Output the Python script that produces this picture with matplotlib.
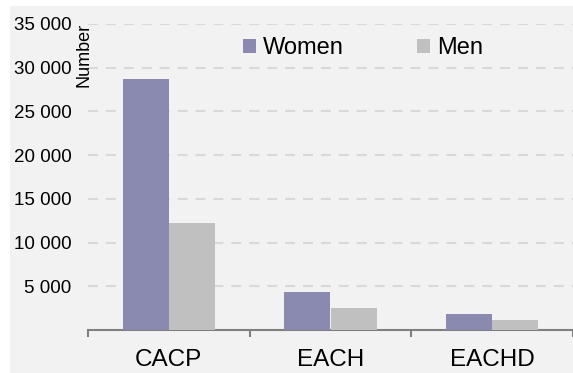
import numpy as np
import matplotlib.pyplot as plt
from matplotlib.patches import Rectangle
from matplotlib.ticker import FixedLocator, FuncFormatter

plt.rcParams['font.family'] = ['Liberation Sans', 'DejaVu Sans']

categories = ['CACP', 'EACH', 'EACHD']
women = [28700, 4300, 1800]
men = [12200, 2500, 1100]
y_ticks = [5000, 10000, 15000, 20000, 25000, 30000, 35000]

women_color = '#8a8ab0'
men_color = '#c0c0c0'
bg_color = '#f2f2f2'

fig = plt.figure(figsize=(5.73, 3.73), dpi=100)
fig.patch.set_facecolor('white')
# grey panel behind everything, leaving a thin white margin top/left
fig.add_artist(Rectangle((10 / 573, 0), 1, 367 / 373, transform=fig.transFigure,
                         facecolor=bg_color, edgecolor='none', zorder=-10))

ax = fig.add_axes([88 / 573, 43 / 373, 485 / 573, 306 / 373])
ax.set_facecolor('none')

x = np.arange(len(categories))
w = 0.285
ax.bar(x - w / 2, women, w, color=women_color, label='Women', zorder=3)
ax.bar(x + w / 2, men, w, color=men_color, label='Men', zorder=3)

ax.set_xlim(-0.5, 2.5)
ax.set_ylim(0, 35000)

for sp in ['left', 'right', 'top']:
    ax.spines[sp].set_visible(False)
ax.spines['bottom'].set_color('#808080')
ax.spines['bottom'].set_linewidth(1.5)

ax.set_xticks(x)
ax.set_xticklabels(categories, fontsize=17.5)
ax.xaxis.set_minor_locator(FixedLocator([-0.5, 0.5, 1.5, 2.5]))
ax.tick_params(axis='x', which='major', length=0, pad=14)
ax.tick_params(axis='x', which='minor', length=5, width=1.5, color='#808080')

ax.set_yticks(y_ticks)
ax.yaxis.set_major_formatter(FuncFormatter(lambda v, p: f'{int(v):,}'.replace(',', ' ')))
ax.tick_params(axis='y', length=0, pad=12, labelsize=13.5)
ax.yaxis.grid(True, color='#d9d9d9', linewidth=1.5, linestyle=(0, (4.8, 3.8)), zorder=0)
ax.set_axisbelow(True)

fig.text(84 / 573, 1 - 55 / 373, 'Number', rotation=90, fontsize=13,
         ha='center', va='center')

ax.legend(loc='center left', bbox_to_anchor=(243 / 573, 1 - 48 / 373),
          bbox_transform=fig.transFigure, ncol=2, frameon=False, fontsize=17,
          borderpad=0, borderaxespad=0, handlelength=0.55, handleheight=0.55,
          handletextpad=0.3, columnspacing=3.1)

fig.savefig('out.png', dpi=100)
